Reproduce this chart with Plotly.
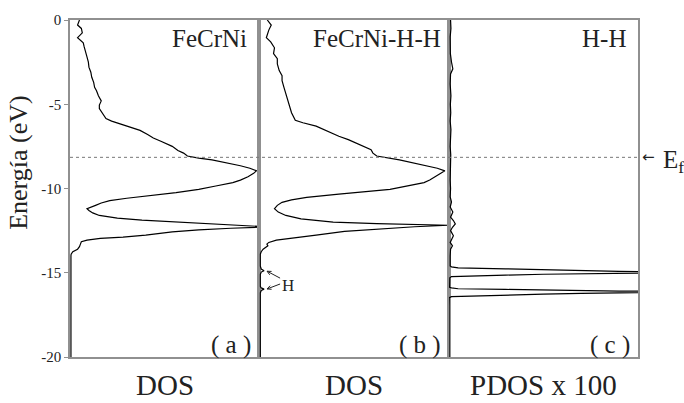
import math
import plotly.graph_objects as go
from plotly.subplots import make_subplots

# ---------------- data (energy in eV, DOS in arbitrary units, panel full width = 100) -------------
energy_fecrni = [0.0, -0.3, -0.5, -0.76, -1.05, -1.35, -1.6, -1.87, -2.2, -2.5, -2.8, -3.1, -3.4,
                 -3.7, -4.0, -4.2, -4.5, -4.8, -5.05, -5.26, -5.5, -5.85, -6.0, -6.14, -6.35, -6.55,
                 -6.8, -7.0, -7.2, -7.5, -7.75, -7.9, -8.07, -8.2, -8.3, -8.5, -8.65, -8.8, -8.95,
                 -9.1, -9.3, -9.5, -9.65, -9.85, -10.05, -10.25, -10.43, -10.58, -10.72, -10.86,
                 -11.0, -11.1, -11.2, -11.3, -11.45, -11.6, -11.76, -11.88, -11.95, -12.05, -12.15,
                 -12.28, -12.36, -12.45, -12.57, -12.77, -12.88, -12.96, -13.06, -13.16, -13.3,
                 -13.45, -13.6, -13.75, -13.9, -14.0, -20.0]
dos_fecrni = [5, 4, 6, 6.5, 4, 7, 7.5, 8, 9, 9.7, 10, 11, 11.5,
              12.5, 13, 14, 15, 16.5, 15.5, 15.5, 17, 19, 22, 26, 32, 37,
              41, 44, 48, 54, 57, 60, 62, 68, 75, 84, 90, 95, 98.5,
              97, 94, 90, 86, 77, 68, 56, 40, 30, 21, 16.5,
              13.5, 11, 9, 10, 12, 15.5, 25, 38, 51, 66, 84,
              105, 85, 68, 54, 40, 28, 16, 9, 6, 5.5,
              5, 4, 1.5, 0.6, 0.5, 0.5]

energy_fecrni_hh = [0.0, -0.3, -0.6, -1.05, -1.3, -1.65, -2.0, -2.3, -2.6, -3.0, -3.3, -3.6, -4.0,
                    -4.4, -4.7, -5.15, -5.5, -5.95, -6.1, -6.3, -6.6, -6.9, -7.1, -7.3, -7.5, -7.7,
                    -7.9, -8.07, -8.3, -8.5, -8.65, -8.8, -8.95, -9.1, -9.3, -9.5, -9.65, -9.85,
                    -10.05, -10.33, -10.53, -10.68, -10.82, -11.0, -11.2, -11.4, -11.6, -11.8, -11.99,
                    -12.08, -12.18, -12.27, -12.38, -12.55, -12.77, -12.92, -13.06, -13.2, -13.3,
                    -13.4, -13.5, -13.6, -13.75, -13.9, -14.6, -14.78, -14.88, -14.96, -15.1, -15.8,
                    -15.9, -15.97, -16.05, -16.2, -20.0]
dos_fecrni_hh = [4.2, 6.3, 5, 3.7, 6, 8, 7.5, 9.5, 9.5, 10.5, 12, 12, 13,
                 14, 15, 16, 17, 19, 23, 30, 36, 42, 47, 51, 55, 59,
                 60, 62, 74, 82, 88, 94, 98, 96, 93, 90, 87, 78,
                 69, 42, 25, 17, 12, 9.5, 8, 10, 14, 22, 39,
                 62, 100, 82, 65, 45, 30, 18, 9, 5, 4,
                 4.5, 3, 2, 1, 0.5, 0.5, 1, 2.5, 1, 0.5, 0.5,
                 1, 2.5, 1, 0.5, 0.5]

energy_hh = [0.0, -0.5, -1.0, -1.5, -2.0, -2.5, -2.9, -3.2, -3.8, -4.5, -5.0, -5.5, -6.0, -6.5,
             -7.0, -7.5, -8.0, -8.5, -9.0, -9.5, -10.0, -10.5, -10.8, -11.1, -11.4, -11.7, -11.9,
             -12.1, -12.3, -12.5, -12.8, -13.0, -13.2, -13.4, -13.6, -14.0, -14.4,
             -14.60, -14.65, -14.71, -14.77, -14.82, -14.87, -14.92, -14.97,
             -15.02, -15.05, -15.09, -15.14, -15.19, -15.23, -15.30, -15.6,
             -15.87, -15.90, -15.95, -15.99, -16.02, -16.05, -16.09, -16.12,
             -16.17, -16.22, -16.27, -16.32, -16.38, -16.42, -16.48, -17.0, -20.0]
pdos_hh_x100 = [1.0, 1.2, 0.8, 1.0, 0.9, 1.5, 2.2, 1.0, 0.8, 1.2, 0.9, 1.1, 0.8, 1.2,
                1.0, 0.8, 1.1, 0.9, 1.0, 0.8, 1.0, 0.8, 1.5, 0.8, 2.2, 1.0, 2.5,
                3.5, 2.0, 1.0, 2.5, 1.5, 0.8, 2.0, 1.0, 0.8, 0.8,
                0.8, 1.5, 5, 30, 50, 70, 90, 140,
                90, 70, 50, 30, 5, 1.5, 0.6, 0.6,
                0.5, 1.5, 5, 30, 50, 70, 90, 140,
                90, 70, 50, 30, 5, 1.5, 0.3, 0.2, 0.2]

panel_titles = ["FeCrNi", "FeCrNi-H-H", "H-H"]
panel_letters = ["( a )", "( b )", "( c )"]
x_labels = ["DOS", "DOS", "PDOS x 100"]
ytick_vals = [0, -5, -10, -15, -20]
ytick_text = ["0", "-5", "-10", "-15", "-20"]
fermi_level = -8.15
h_peak_energies = [-14.91, -15.96]

# ---------------- figure ----------------
SERIF = "Liberation Serif, Times New Roman, serif"
FRAME = "#909090"
TXT = "#222"

fig = make_subplots(rows=1, cols=3, shared_yaxes=True, horizontal_spacing=0)
series = [(energy_fecrni, dos_fecrni), (energy_fecrni_hh, dos_fecrni_hh), (energy_hh, pdos_hh_x100)]
for i, (e, d) in enumerate(series, start=1):
    fig.add_trace(go.Scatter(x=d, y=e, mode="lines", line=dict(color="black", width=1.2),
                             showlegend=False, hoverinfo="skip"), row=1, col=i)

for i in range(1, 4):
    fig.update_xaxes(range=[0, 100], showgrid=False, zeroline=False, showticklabels=False,
                     ticks="", showline=True, mirror=True, linecolor=FRAME, linewidth=1.5,
                     row=1, col=i)
    fig.update_yaxes(range=[-20, 0], showgrid=False, zeroline=False, showline=True, mirror=True,
                     linecolor=FRAME, linewidth=1.5, row=1, col=i)

fig.update_yaxes(tickvals=ytick_vals, ticktext=ytick_text, ticks="outside", ticklen=4,
                 tickcolor=FRAME, tickfont=dict(family=SERIF, size=15, color=TXT),
                 row=1, col=1)
fig.update_yaxes(showticklabels=False, ticks="", row=1, col=2)
fig.update_yaxes(showticklabels=False, ticks="", row=1, col=3)

# Fermi level
fig.add_shape(type="line", xref="paper", yref="y", x0=0, x1=1, y0=fermi_level, y1=fermi_level,
              line=dict(color="#777", width=1, dash="dot"))

# small "H" arrows in panel (b): pixel offsets converted to data units
PX_X = 100 / 189.33   # x2 units per pixel
PX_Y = 20 / 342.0     # eV per pixel
tip_x = 4.1
for e, dy in zip(h_peak_energies, [7, -5]):
    tx, ty = tip_x + 13 * PX_X, e - dy * PX_Y
    ang = math.atan2(-dy, 13)
    arms = []
    for da in (0.45, -0.45):
        a = ang + da
        arms.append((tip_x + 4.5 * math.cos(a) * PX_X, e + 4.5 * math.sin(a) * PX_Y))
    path = (f"M {tx},{ty} L {tip_x},{e} M {arms[0][0]},{arms[0][1]} L {tip_x},{e} "
            f"L {arms[1][0]},{arms[1][1]}")
    fig.add_shape(type="path", xref="x2", yref="y", path=path,
                  line=dict(color=TXT, width=1))

anns = []
title_x = [0.9455, 0.972, 0.947]
axrefs = ["x", "x2", "x3"]
for i in range(3):
    anns.append(dict(text=panel_titles[i], xref=f"{axrefs[i]} domain", yref="y domain",
                     x=title_x[i], y=0.946, xanchor="right", yanchor="middle", showarrow=False,
                     font=dict(family=SERIF, size=25, color=TXT)))
    anns.append(dict(text=panel_letters[i], xref=f"{axrefs[i]} domain", yref="y domain",
                     x=0.968, y=0.035, xanchor="right", yanchor="middle", showarrow=False,
                     font=dict(family=SERIF, size=25, color=TXT)))
    anns.append(dict(text=x_labels[i], xref=f"{axrefs[i]} domain", yref="paper",
                     x=0.5, y=-0.1345, xanchor="center", yanchor="bottom", showarrow=False,
                     borderpad=0, font=dict(family=SERIF, size=29, color=TXT)))

anns.append(dict(text="Energía (eV)", xref="paper", yref="paper", x=-0.0898, y=0.579,
                 textangle=-90, xanchor="center", yanchor="middle", showarrow=False,
                 font=dict(family=SERIF, size=26, color=TXT)))
anns.append(dict(text="←", xref="paper", yref="y", x=1.004, y=fermi_level, xanchor="left",
                 yanchor="middle", showarrow=False, font=dict(family="DejaVu Sans", size=15, color=TXT)))
anns.append(dict(text="E<sub>f</sub>", xref="paper", yref="y", x=1.04, y=fermi_level - 0.25,
                 xanchor="left", yanchor="middle", showarrow=False,
                 font=dict(family=SERIF, size=25, color=TXT)))
anns.append(dict(text="H", xref="x2", yref="y", x=14.9, y=-15.73, xanchor="center",
                 yanchor="middle", showarrow=False, font=dict(family=SERIF, size=17, color=TXT)))

fig.update_layout(width=684, height=403, margin=dict(l=70, r=46, t=15, b=46),
                  paper_bgcolor="white", plot_bgcolor="white", annotations=anns,
                  font=dict(family=SERIF))

fig.write_html("out.html", config={"displayModeBar": False},
               post_script="document.body.style.margin='0px';document.body.style.overflow='hidden';")
